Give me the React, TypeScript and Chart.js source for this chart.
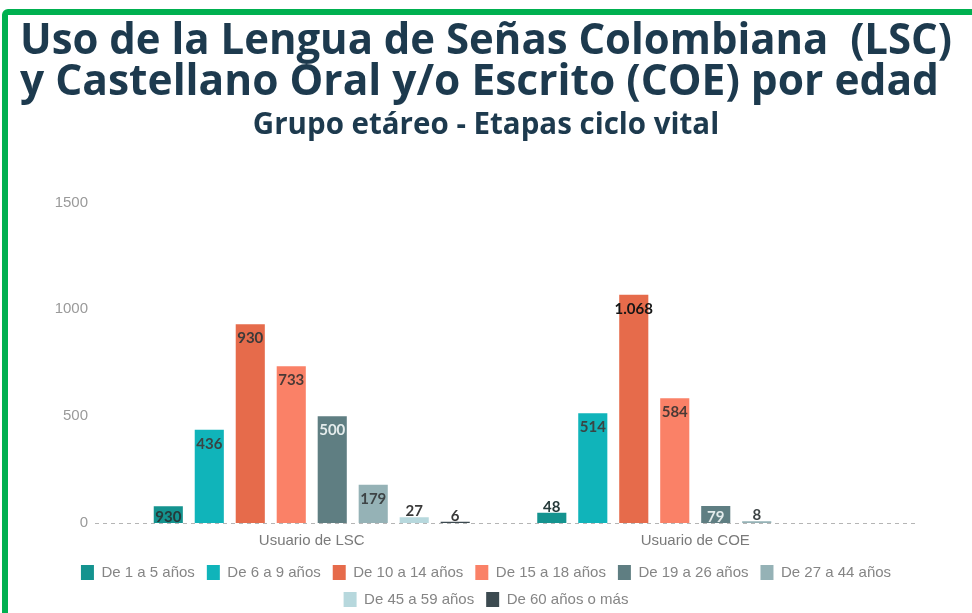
import React, { useEffect, useRef } from 'react';
import { Chart, registerables } from 'chart.js';

Chart.register(...registerables);

const titleLines = [
  'Uso de la Lengua de Señas Colombiana  (LSC)',
  'y Castellano Oral y/o Escrito (COE) por edad',
];
const subtitleText = 'Grupo etáreo - Etapas ciclo vital';

const categories = ['Usuario de LSC', 'Usuario de COE'];

const seriesNames = [
  'De 1 a 5 años',
  'De 6 a 9 años',
  'De 10 a 14 años',
  'De 15 a 18 años',
  'De 19 a 26 años',
  'De 27 a 44 años',
  'De 45 a 59 años',
  'De 60 años o más',
];

const de1a5 = [78, 48];
const de6a9 = [436, 514];
const de10a14 = [930, 1068];
const de15a18 = [733, 584];
const de19a26 = [500, 79];
const de27a44 = [179, 8];
const de45a59 = [27, null];
const de60mas = [6, null];

const lbl1a5 = ['930', '48'];
const lbl6a9 = ['436', '514'];
const lbl10a14 = ['930', '1.068'];
const lbl15a18 = ['733', '584'];
const lbl19a26 = ['500', '79'];
const lbl27a44 = ['179', '8'];
const lbl45a59 = ['27', ''];
const lbl60mas = ['6', ''];

const yTicks = [0, 500, 1000, 1500];

const seriesValues = [de1a5, de6a9, de10a14, de15a18, de19a26, de27a44, de45a59, de60mas];
const seriesLabels = [lbl1a5, lbl6a9, lbl10a14, lbl15a18, lbl19a26, lbl27a44, lbl45a59, lbl60mas];
const seriesColors = ['#14938f', '#10b4ba', '#e66b4b', '#fa8167', '#5f7e82', '#95b2b6', '#b7d8dd', '#3c4a50'];
const labelColors = ['#263a3a', '#3a4444', '#3a3a3a', '#4a3a36', '#e4ecec', '#3e4446', '#3a3a3a', '#3a3a3a'];

const zeroLinePlugin = {
  id: 'zeroLine',
  beforeDatasetsDraw(chart: any) {
    const { ctx, chartArea, scales } = chart;
    const y = Math.round(scales.y.getPixelForValue(0)) + 0.5;
    ctx.save();
    ctx.strokeStyle = '#b5b5b5';
    ctx.lineWidth = 1;
    ctx.setLineDash([4, 4]);
    ctx.beginPath();
    ctx.moveTo(chartArea.left - 25, y);
    ctx.lineTo(chartArea.right + 31, y);
    ctx.stroke();
    ctx.restore();
  },
};

const barLabelPlugin = {
  id: 'barLabels',
  afterDatasetsDraw(chart: any) {
    const { ctx } = chart;
    ctx.save();
    ctx.font = 'bold 15px Lato';
    ctx.textAlign = 'center';
    ctx.textBaseline = 'middle';
    chart.data.datasets.forEach((ds: any, i: number) => {
      const meta = chart.getDatasetMeta(i);
      meta.data.forEach((el: any, j: number) => {
        const v = ds.data[j];
        const text = seriesLabels[i][j];
        if (v === null || !text) return;
        const h = el.base - el.y;
        let cy;
        if (h >= 14) cy = Math.min(el.y + 14, el.base - 6);
        else cy = el.y - 6;
        ctx.fillStyle = text === '1.068' ? '#151515' : labelColors[i];
        ctx.fillText(text, el.x, cy);
      });
    });
    ctx.restore();
  },
};

export default function App() {
  const ref = useRef<HTMLCanvasElement>(null);
  useEffect(() => {
    if (!ref.current) return;
    const chart = new Chart(ref.current, {
      type: 'bar',
      data: {
        labels: categories,
        datasets: seriesNames.map((name, i) => ({
          label: name,
          data: seriesValues[i],
          backgroundColor: seriesColors[i],
          borderWidth: 0,
          categoryPercentage: 0.855,
          barPercentage: 0.71,
        })),
      },
      options: {
        animation: false,
        responsive: false,
        devicePixelRatio: 1,
        layout: { padding: { left: 20, right: 20, top: 12, bottom: -4 } },
        plugins: {
          title: {
            display: true,
            text: titleLines,
            align: 'start',
            color: '#1d3a4e',
            font: { family: 'Open Sans', weight: 'bold', size: 42.5, lineHeight: 0.965 },
            padding: { top: 9, bottom: 0 },
          },
          subtitle: {
            display: true,
            text: subtitleText,
            align: 'center',
            color: '#1d3a4e',
            font: { family: 'Open Sans', weight: 'bold', size: 29.5, lineHeight: 1.2 },
            padding: { top: 5, bottom: 59 },
          },
          legend: {
            position: 'bottom',
            labels: {
              boxWidth: 13,
              boxHeight: 15,
              padding: 12,
              color: '#858585',
              font: { family: 'Liberation Sans', size: 15 },
            },
          },
          tooltip: { enabled: false },
        },
        scales: {
          x: {
            afterFit: (s: any) => { s.height = 30; },
            grid: { display: false, drawTicks: false },
            border: { display: false },
            ticks: { color: '#7a7a7a', font: { family: 'Liberation Sans', size: 15 }, padding: 9 },
          },
          y: {
            min: 0,
            max: 1500,
            afterFit: (s: any) => { s.width = 100; },
            afterBuildTicks: (s: any) => { s.ticks = yTicks.map((v) => ({ value: v })); },
            grid: { display: false, drawTicks: false },
            border: { display: false },
            ticks: {
              color: '#9a9a9a',
              font: { family: 'Liberation Sans', size: 15 },
              padding: 32,
              callback: (v: any) => String(v),
            },
          },
          y2: {
            position: 'right',
            min: 0,
            max: 1500,
            afterFit: (s: any) => { s.width = 65; },
            grid: { display: false, drawTicks: false },
            border: { display: false },
            ticks: { display: false },
          },
        },
      },
      plugins: [zeroLinePlugin, barLabelPlugin],
    } as any);
    return () => chart.destroy();
  }, []);
  return (
    <div style={{ position: 'fixed', left: 0, top: 0, width: 972, height: 613, overflow: 'hidden', background: '#ffffff' }}>
      <div
        style={{
          position: 'absolute',
          left: 2,
          top: 9,
          width: 1100,
          height: 800,
          border: '6px solid #00b050',
          borderRadius: 6,
        }}
      />
      <canvas ref={ref} width={972} height={613} style={{ position: 'absolute', left: 0, top: 0 }} />
    </div>
  );
}
